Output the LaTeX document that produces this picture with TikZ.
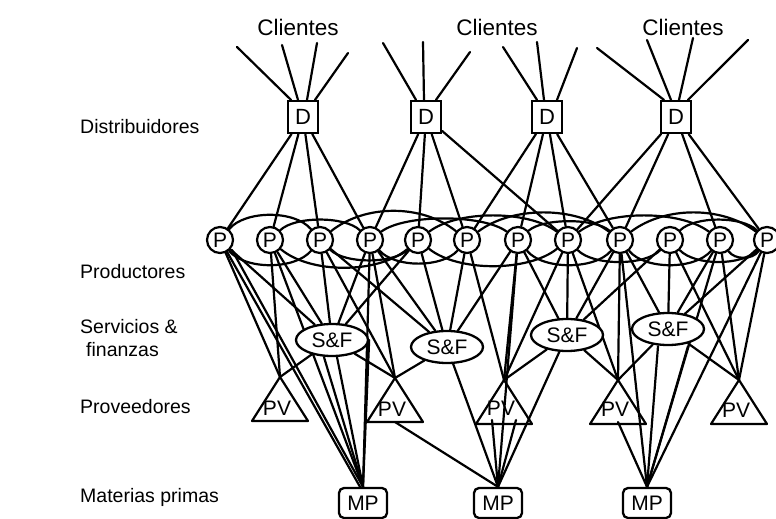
\documentclass[tikz,border=0pt]{standalone}
\usepackage{fontspec}
\setmainfont{Liberation Sans}
\usetikzlibrary{shapes.geometric}
\pgfdeclarelayer{bg}
\pgfsetlayers{bg,main}
\begin{document}
\begin{tikzpicture}[x=1pt,y=-1pt,
  lk/.style={line width=2.2pt, line cap=round, line join=round},
  dbox/.style={draw, line width=2.2pt, fill=white, minimum width=30pt, minimum height=32pt, inner sep=0pt, font=\fontsize{22}{24}\selectfont},
  pnode/.style={draw, circle, line width=2.2pt, fill=white, minimum size=26pt, inner sep=0pt, font=\fontsize{21}{24}\selectfont},
  sf/.style={draw, ellipse, line width=2.3pt, fill=white, minimum width=72pt, minimum height=32pt, inner sep=0pt, font=\fontsize{21}{24}\selectfont},
  mp/.style={draw, rounded corners=5pt, line width=2.3pt, fill=white, minimum width=48pt, minimum height=30pt, inner sep=0pt, font=\fontsize{21}{24}\selectfont},
  lab/.style={anchor=west, inner sep=0pt, font=\fontsize{19.5}{22}\selectfont},
  cli/.style={inner sep=0pt, font=\fontsize{22.5}{24}\selectfont},
  pvt/.style={inner sep=0pt, font=\fontsize{21}{24}\selectfont},
]
\useasboundingbox (0,0) rectangle (776,519);
\clip (0,0) rectangle (776,519);

% labels
\node[cli] (cl1) at (298,27) {Clientes};
\node[cli] (cl2) at (497,27) {Clientes};
\node[cli] (cl3) at (683,27) {Clientes};
\node[lab] (l1) at (80,127) {Distribuidores};
\node[lab] (l2) at (80,272) {Productores};
\node[lab] (l3) at (80,327) {Servicios \&};
\node[lab] (l4) at (86,350) {finanzas};
\node[lab] (l5) at (80,407) {Proveedores};
\node[lab] (l6) at (80,497) {Materias primas};

% distributors
\node[dbox] (d1) at (303,117) {D};
\node[dbox] (d2) at (426,117) {D};
\node[dbox] (d3) at (547,117) {D};
\node[dbox] (d4) at (676,117) {D};

% producers
\foreach \i/\x in {1/220,2/270,3/320,4/370,5/418,6/467,7/518,8/568,9/620,10/670,11/720,12/767}
  \node[pnode] (p\i) at (\x,240) {P};

% services & finance
\node[sf] (sf1) at (332,340) {S\&F};
\node[sf] (sf2) at (447,347) {S\&F};
\node[sf] (sf3) at (567,335) {S\&F};
\node[sf] (sf4) at (668,329) {S\&F};

% suppliers (apex and base points)
\coordinate (pv1a) at (280,377); \coordinate (pv1b) at (280,421);
\coordinate (pv2a) at (395,378); \coordinate (pv2b) at (395,422);
\coordinate (pv3a) at (504,380); \coordinate (pv3b) at (504,420);
\coordinate (pv4a) at (618,380); \coordinate (pv4b) at (618,422);
\coordinate (pv5a) at (739,380); \coordinate (pv5b) at (739,424);
\foreach \i in {1,...,5}
  \draw[lk] (pv\i a) -- ++(28,44) -- ++(-56,0) -- cycle;
\node[pvt] (pv1t) at (277,408) {PV};
\node[pvt] (pv2t) at (392,409) {PV};
\node[pvt] (pv3t) at (501,408) {PV};
\node[pvt] (pv4t) at (615,409) {PV};
\node[pvt] (pv5t) at (736,410) {PV};

% raw materials
\node[mp] (mp1) at (363,503) {MP};
\node[mp] (mp2) at (498,503) {MP};
\node[mp] (mp3) at (647,503) {MP};

\begin{pgfonlayer}{bg}
% clients
\foreach \d/\o/\x/\y [count=\i] in {1/-12/237/47, 1/-5/282/45, 1/4/317/43, 1/12/348/53,
  2/-10/383/43, 2/-2/423/42, 2/10/470/52, 3/-10/503/47, 3/-3/537/42, 3/10/577/48,
  4/-12/597/48, 4/-5/647/40, 4/3/693/38, 4/12/748/40}{
  \coordinate (k\i) at (\x,\y);
  \draw[lk] ([xshift=\o pt]d\d.north) -- (k\i);
}
% distributors to producers
\foreach \a/\b in {1/1,1/2,1/3,1/4,2/4,2/5,2/6,2/8,3/6,3/7,3/8,3/9,4/8,4/9,4/11,4/12}
  \draw[lk] (d\a) -- (p\b);
% arcs above producers
\foreach \a/\b/\dx/\h in {1/3/25/30, 2/4/25/24, 3/6/45/36, 4/7/35/26, 6/9/45/34, 7/9/25/22, 8/11/40/30, 9/12/45/34, 10/12/25/24, 5/8/40/30}
  \draw[lk] (p\a) .. controls +(\dx,-\h) and +(-\dx,-\h) .. (p\b);
% arcs below producers
\foreach \a/\b/\dx/\h in {1/3/25/30, 2/5/40/34, 4/6/25/28, 5/8/40/32, 7/9/25/30, 8/10/25/26, 9/11/25/30, 10/12/25/26, 3/5/25/24, 11/12/15/20}
  \draw[lk] (p\a) .. controls +(\dx,\h) and +(-\dx,\h) .. (p\b);
% producers to S&F
\foreach \a/\b in {1/1,2/1,3/1,4/1,5/1,3/2,4/2,5/2,6/2,7/2,7/3,8/3,9/3,10/3,9/4,10/4,11/4,12/4}
  \draw[lk] (p\a) -- (sf\b);
% producers and S&F to suppliers
\foreach \a/\b in {1/1,2/1,3/2,4/2,6/3,7/3,8/3,9/4,8/4,10/5,11/5,12/5}
  \draw[lk] (p\a) -- (pv\b a);
\foreach \a/\b in {1/1,1/2,2/2,3/3,3/4,4/4,4/5}
  \draw[lk] (sf\a) -- (pv\b a);
% to raw materials
\draw[lk] ([xshift=-4pt]p1.south east) -- ([xshift=-3pt]mp1.north);
\draw[lk] ([xshift=2pt]p1.south east) -- (mp1.north);
\foreach \a in {2,4}
  \draw[lk] (p\a) -- (mp1.north);
\draw[lk] ([xshift=-8pt]sf1.south) -- (mp1.north);
\draw[lk] ([xshift=5pt]sf1.south) -- (mp1.north);
\draw[lk] (sf1.east) -- (mp1.north);
\draw[lk] (pv2b) -- (mp2.north);
\draw[lk] ([xshift=-12pt]pv3b) -- (mp2.north);
\draw[lk] ([xshift=12pt]pv3b) -- (mp2.north);
\draw[lk] (sf2) -- (mp2.north);
\draw[lk] (p7) -- (mp2.north);
\draw[lk] (sf3) -- (mp2.north);
\draw[lk] (pv4b) -- (mp3.north);
\draw[lk] (p9) -- (mp3.north);
\draw[lk] ([xshift=-10pt]sf4.south) -- (mp3.north);
\draw[lk] ([xshift=20pt]sf4.south) -- (mp3.north);
\draw[lk] (p12) -- (mp3.north);
\draw[lk] (p11) -- (mp3.north);
\end{pgfonlayer}
\end{tikzpicture}
\end{document}
